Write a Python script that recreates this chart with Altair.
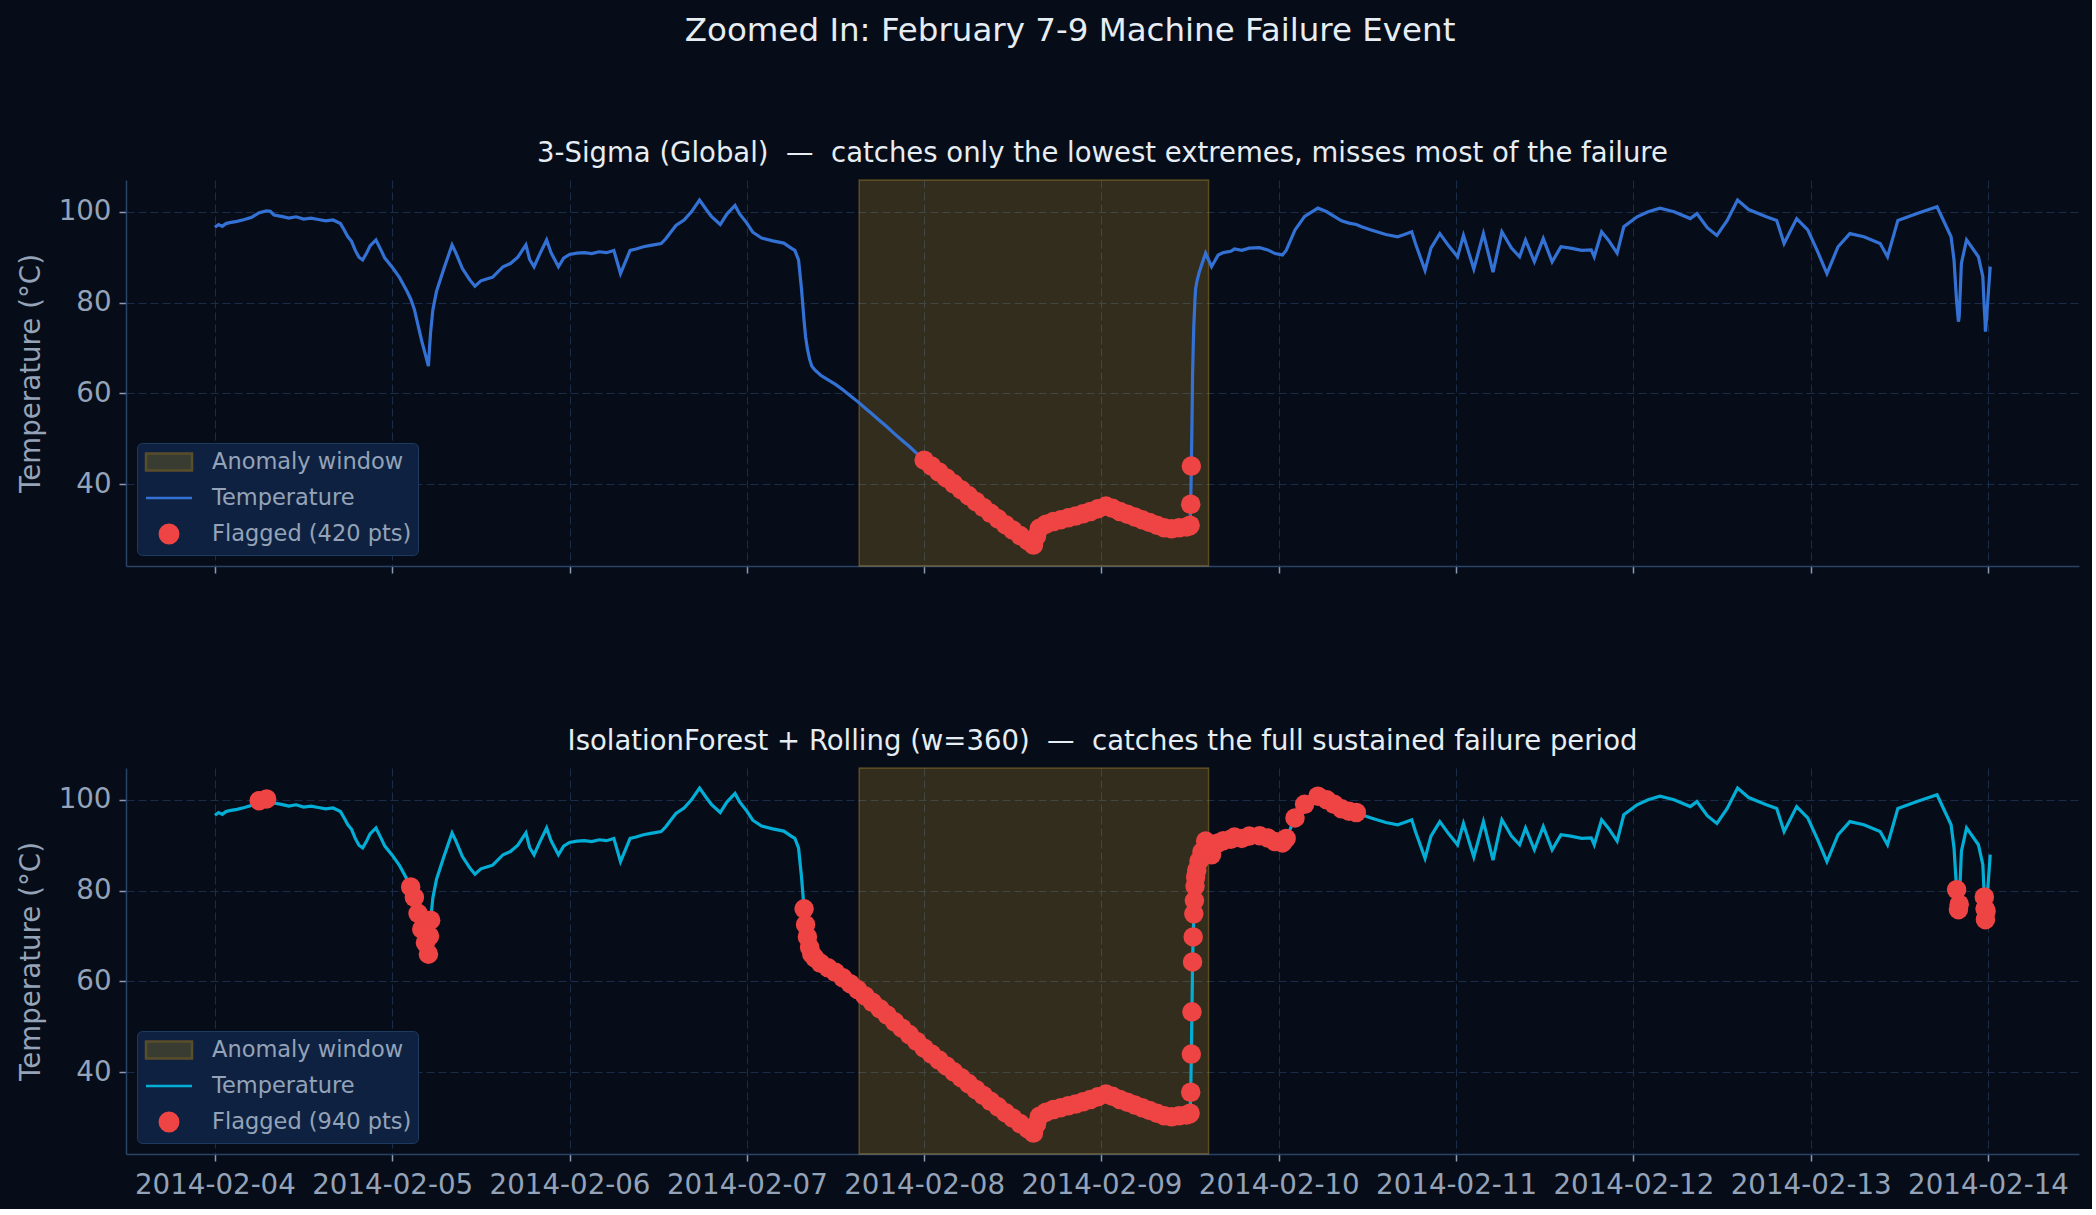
import altair as alt
import pandas as pd

# ---------------- data ----------------
# hours after 2014-02-04 00:00 and temperature in degC
HOURS = [
    0, 0.5, 1, 1.5, 2, 3, 4, 5, 6, 7, 7.5, 8, 9, 10, 11, 12, 13, 14, 15, 16, 17, 17.5,
    18, 18.5, 19, 19.5, 20, 20.5, 21, 21.8, 22.5, 23, 24, 25, 25.5, 26, 26.5, 27, 27.5,
    28, 28.5, 28.9, 29.05, 29.2, 29.5, 30, 31, 32.1, 32.6, 33.5, 34.5, 35.2, 36, 37, 37.6,
    39, 40, 41, 42.1, 42.6, 43.2, 44, 44.9, 45.5, 46.5, 47.2, 48, 49, 50, 51, 52, 53, 54,
    54.9, 56.2, 57, 58, 59, 60.4, 61, 62.4, 63.5, 64.5, 65.6, 66.5, 67.2, 68.4, 69.3, 70.4,
    71, 72, 72.8, 74, 75.5, 77, 78, 78.5, 79.0, 79.4, 79.75, 79.95, 80.2, 80.5, 80.8, 81.2,
    82, 83, 84, 85, 86, 87, 88, 89, 90, 91, 92, 93, 94, 95, 96, 97, 98, 99, 100, 101, 102,
    103, 104, 105, 106, 107, 108, 109, 110, 110.8, 111.2, 111.6, 112.5, 113.5, 114.5, 115.5,
    116.5, 117.5, 118.5, 119.5, 120.6, 121.5, 122.5, 123.5, 124.5, 125.5, 126.5, 127.5,
    128.5, 129.5, 130.5, 131.5, 131.9, 132.0, 132.083, 132.167, 132.25, 132.333, 132.417,
    132.5, 132.583, 132.667, 132.75, 132.9, 133.2, 133.6, 134.1, 134.9, 135.8, 136.5, 137.5,
    138, 139, 140, 141.4, 142.5, 143.5, 144.5, 145, 146.2, 147.5, 149.3, 150.5, 151.5, 152.5,
    153.5, 154.5, 155.2, 156.5, 157.5, 158.5, 160.1, 161, 162, 162.5, 163.8, 164.6, 165.8,
    167, 168.2, 169, 170.4, 171.7, 173, 174.2, 175.5, 176.6, 177.4, 178.6, 179.8, 181, 182.2,
    183.5, 185, 186.3, 186.7, 187.7, 188.6, 189.8, 190.7, 192.5, 194, 195.6, 197.5, 199.7,
    200.6, 202, 203.3, 204.7, 206.1, 207.6, 210, 211.4, 212.4, 214.1, 215.6, 217, 218.2,
    219.7, 221.3, 223.2, 225.4, 226.4, 227.8, 230.4, 233.1, 235, 235.4, 235.75, 236.0, 236.1,
    236.4, 237.1, 238.7, 239.3, 239.5, 239.6, 239.65, 239.75, 240.3,
]
TEMPS = [
    96.6, 97.2, 96.8, 97.4, 97.6, 97.9, 98.3, 98.8, 99.8, 100.2, 100.1, 99.3, 99.0, 98.6, 98.9,
    98.4, 98.6, 98.3, 98.0, 98.2, 97.4, 96.0,
    94.5, 93.5, 91.5, 90.0, 89.4, 90.8, 92.5, 93.8, 91.5, 89.8, 87.8, 85.5, 84.0, 82.5, 80.8,
    78.5, 75.0,
    71.5, 68.5, 66.0, 70.0, 73.5, 78.4, 82.5, 87.5, 92.7, 91.0, 87.5, 85.0, 83.6, 84.8, 85.3,
    85.6,
    87.9, 88.6, 90.0, 92.7, 89.5, 87.9, 90.8, 93.8, 91.0, 87.9, 89.8, 90.6, 90.9, 91.0, 90.8,
    91.2, 91.0, 91.5,
    86.4, 91.5, 91.8, 92.3, 92.6, 93.0, 94.0, 97.0, 98.2, 100.0, 102.6, 100.5, 99.0, 97.2,
    99.5, 101.4,
    99.6, 97.5, 95.5, 94.2, 93.6, 93.1, 92.0, 91.5, 89.4, 83.0, 76.0, 72.5, 69.8, 67.5, 66.0,
    65.2,
    64.0, 63.0, 62.0, 60.8, 59.5, 58.2, 56.8, 55.4, 54.0, 52.6, 51.1, 49.7, 48.3, 46.8, 45.3,
    44.0, 42.7, 41.4, 40.1, 38.8, 37.5,
    36.2, 34.9, 33.6, 32.4, 31.1, 29.9, 28.7, 27.6, 26.6, 28.5, 30.3, 31.2, 31.8, 32.2, 32.6,
    33.0, 33.5, 34.0, 34.6, 35.2, 34.7, 34.0, 33.4, 32.8, 32.2, 31.6, 31.0,
    30.4, 30.2, 30.4, 30.6, 30.8, 31.0, 35.6, 44.0, 53.3, 64.3, 69.8,
    74.9, 77.8, 81.0, 83.0, 84.5, 86.5, 88.5, 90.9, 87.9, 90.5, 91.0, 91.3,
    91.8, 91.5, 92.0, 92.1, 91.6, 90.8, 90.5, 91.5, 96.0, 99.0, 100.8, 100.0, 99.0, 98.0,
    97.5, 97.2, 96.7, 96.0, 95.5, 95.0, 94.5, 95.0, 95.6, 93.0, 87.1, 92.0, 95.2,
    92.5, 90.1, 94.8, 87.4, 95.2, 86.7, 95.6, 92.0, 90.1, 93.8, 89.0, 94.1, 89.0, 92.3,
    92.0, 91.5, 91.6, 90.1, 95.6, 93.8, 90.9, 96.7, 98.9, 100.0, 100.8, 100.0, 98.5,
    99.6, 96.5, 94.8, 98.1, 102.6, 100.5, 98.9, 98.1, 93.0, 98.5, 96.0, 91.0, 86.4,
    92.3, 95.2, 94.5, 93.0, 90.1, 98.1, 99.6, 101.1, 94.5, 89.4, 80.2, 75.8, 77.0,
    88.7, 93.8, 90.1, 85.7, 78.6, 76.0, 73.6, 75.5, 87.9,
]

SIGMA_THRESHOLD = 45.5                      # 3-sigma (global) lower bound
IF_FLAG_RANGES = [(6.0, 7.2), (26.4, 29.3), (79.7, 154.8), (235.7, 236.15), (239.45, 239.8)]
WINDOW_HOURS = [87.2, 134.5]                # anomaly window

SEP = " \u00a0\u2014\u00a0 "
TITLE = "Zoomed In: February 7-9 Machine Failure Event"
TOP_TITLE = "3-Sigma (Global)" + SEP + "catches only the lowest extremes, misses most of the failure"
BOT_TITLE = "IsolationForest + Rolling (w=360)" + SEP + "catches the full sustained failure period"
TOP_LABELS = ["Anomaly window", "Temperature", "Flagged (420 pts)"]
BOT_LABELS = ["Anomaly window", "Temperature", "Flagged (940 pts)"]
TICK_DAYS = list(range(4, 15))

# ---------------- styling ----------------
FONT = "DejaVu Sans"
BG = "#060c18"
PANEL = "#0b1527"
TXT = "#94a3b8"
RED = "#ef4444"
BLUE = "#3372d4"
CYAN = "#03aed6"

START = pd.Timestamp("2014-02-04 00:00:00")


def iso(h):
    return (START + pd.Timedelta(hours=h)).strftime("%Y-%m-%dT%H:%M:%SZ")


df = pd.DataFrame({"t": [iso(h) for h in HOURS], "v": TEMPS})
df["ifflag"] = [any(lo <= h <= hi for lo, hi in IF_FLAG_RANGES) for h in HOURS]
win = pd.DataFrame({"start": [iso(WINDOW_HOURS[0])], "end": [iso(WINDOW_HOURS[1])]})

xdomain = [alt.DateTime(year=2014, month=2, date=3, hours=11, minutes=58, utc=True),
           alt.DateTime(year=2014, month=2, date=14, hours=12, minutes=19, utc=True)]
xvals = [alt.DateTime(year=2014, month=2, date=d, utc=True) for d in TICK_DAYS]

W, H = 1953, 386


def panel(title, labels, line_color, flag_filter, show_labels):
    xscale = alt.Scale(type="utc", domain=xdomain)
    xaxis = alt.Axis(values=xvals, format="%Y-%m-%d", labels=show_labels, title=None,
                     labelPadding=10)
    yscale = alt.Scale(domain=[22.0, 107.0], nice=False, zero=False)
    yaxis = alt.Axis(values=[40, 60, 80, 100], title="Temperature (\u00b0C)",
                     titlePadding=13, labelPadding=8)

    rect = alt.Chart(win).mark_rect(
        fill="#ecb536", fillOpacity=0.2, stroke="#ecb536", strokeOpacity=0.3, strokeWidth=1.5
    ).encode(x=alt.X("start:T", scale=xscale, axis=xaxis), x2="end:T")

    line = alt.Chart(df).mark_line(color=line_color, strokeWidth=3.2).encode(
        x=alt.X("t:T", scale=xscale, axis=xaxis),
        y=alt.Y("v:Q", scale=yscale, axis=yaxis),
    )

    pts = alt.Chart(df).transform_filter(flag_filter).mark_circle(
        color=RED, size=380, opacity=1
    ).encode(x=alt.X("t:T", scale=xscale), y=alt.Y("v:Q", scale=yscale))

    leg = alt.Legend(
        title=None, orient="bottom-left", offset=11, padding=6,
        fillColor="#0f2140", strokeColor="#1e3a5f", cornerRadius=5,
        labelFont=FONT, labelFontSize=22.5, labelColor=TXT, labelLimit=0,
        symbolSize=529, symbolStrokeWidth=2.5, rowPadding=9,
        symbolOffset=13, labelOffset=30,
    )
    shapes = ["M-2,-0.74H2V0.74H-2Z", "M-2,0H2",
              "M-0.8,0A0.8,0.8,0,1,1,0.8,0A0.8,0.8,0,1,1,-0.8,0Z"]
    fills = ["#383c31", "transparent", RED]
    strokes = ["#5a4d2a", line_color, RED]
    leg_df = pd.DataFrame({"label": labels})
    legend_layer = alt.Chart(leg_df).transform_filter("false").mark_point(
        filled=True, opacity=1, strokeWidth=2.5
    ).encode(
        fill=alt.Fill("label:N", scale=alt.Scale(domain=labels, range=fills), legend=leg),
        stroke=alt.Stroke("label:N", scale=alt.Scale(domain=labels, range=strokes), legend=leg),
        shape=alt.Shape("label:N", scale=alt.Scale(domain=labels, range=shapes), legend=leg),
    )

    return alt.layer(rect, line, pts, legend_layer).properties(
        width=W, height=H,
        title=alt.TitleParams(title, fontSize=27.5, font=FONT, color="#e6edf3",
                              fontWeight="normal", offset=12, anchor="middle"),
    )


top = panel(TOP_TITLE, TOP_LABELS, BLUE, alt.datum.v < SIGMA_THRESHOLD, False)
bot = panel(BOT_TITLE, BOT_LABELS, CYAN, alt.datum.ifflag == True, True)

chart = alt.vconcat(top, bot, spacing=153).resolve_scale(
    fill="independent", stroke="independent", shape="independent"
).resolve_legend(
    fill="independent", stroke="independent", shape="independent"
).properties(
    title=alt.TitleParams(TITLE, fontSize=32.5, font=FONT, color="#e6edf3",
                          fontWeight="normal", anchor="middle", offset=92, dx=22),
).configure(
    background=BG,
    padding={"left": 17, "top": 15, "right": 13, "bottom": 10},
).configure_view(
    fill=PANEL, strokeWidth=0,
).configure_axis(
    labelFont=FONT, labelFontSize=27.7, labelColor=TXT,
    titleFont=FONT, titleFontSize=27.7, titleColor=TXT, titleFontWeight="normal",
    tickColor="#8b9bb4", tickSize=7, tickWidth=1.5,
    domainColor="#2a4468", domainWidth=1.5,
    gridColor="#1a2c48", gridDash=[8, 4], gridWidth=1,
)

chart.save("out.html", embed_options={"renderer": "svg", "actions": False})
